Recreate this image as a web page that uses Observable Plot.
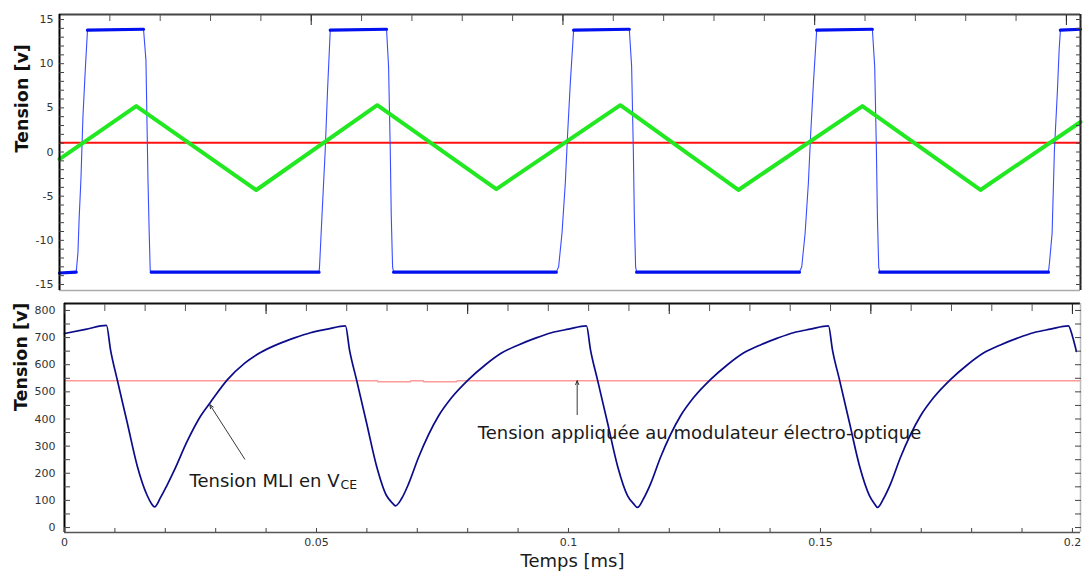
<!DOCTYPE html>
<html><head><meta charset="utf-8">
<script src="https://cdn.jsdelivr.net/npm/d3@7"></script>
<script src="https://cdn.jsdelivr.net/npm/@observablehq/plot@0.6"></script>
<style>
body{margin:0;background:#fff;}
#chart{position:relative;width:1086px;height:581px;overflow:hidden;background:#fff;}
#chart svg{position:absolute;left:0;}
</style></head><body><div id="chart"></div>
<script>
// ---------- TOP PANEL DATA (time in ms, tension in V) ----------
const blueTime = [0, 0.00332, 0.00366, 0.00391, 0.00425, 0.00465, 0.00511, 0.00556, 0.01669, 0.01717, 0.01736, 0.01756, 0.01782, 0.01802, 0.01822,
  0.05155, 0.05165, 0.05213, 0.05278, 0.05324, 0.05378,
  0.06496, 0.06536, 0.06570, 0.06590, 0.06616, 0.06636,
  0.09868, 0.09914, 0.09981, 0.10047, 0.10093, 0.10146, 0.10212,
  0.11318, 0.11364, 0.11398, 0.11418, 0.11443, 0.11463,
  0.14697, 0.14743, 0.14810, 0.14875, 0.14921, 0.14975, 0.15040,
  0.16146, 0.16192, 0.16226, 0.16246, 0.16272, 0.16292,
  0.19643, 0.19663, 0.19716, 0.19736, 0.19762, 0.19822, 0.19855, 0.19881,
  0.2028];
const blueVolt = [-13.7, -13.6, -11.4, -7.4, -3.2, 3.9, 9.2, 13.8, 13.9, 10.4, 4.0, -2.8, -9.2, -13.4, -13.6,
  -13.6, -13.0, -7.3, 0.2, 7.0, 13.8,
  13.9, 9.7, 0.2, -7.3, -13.0, -13.6,
  -13.6, -13.0, -9.2, -3.5, 2.1, 7.8, 13.8,
  13.9, 9.7, 0.2, -7.3, -13.0, -13.6,
  -13.6, -13.0, -9.2, -3.5, 2.1, 7.8, 13.8,
  13.9, 9.7, 0.2, -7.3, -13.0, -13.6,
  -13.6, -12.6, -9.2, -5.1, 0.2, 7.0, 11.5, 13.8,
  13.9];
const greenTime = [0, 0.01524, 0.03908, 0.06312, 0.08676, 0.11140, 0.13484, 0.15948, 0.18292, 0.2028];
const greenVolt = [-0.8, 5.2, -4.3, 5.3, -4.2, 5.3, -4.3, 5.2, -4.3, 3.4];
const redLevel = [1.05];
const topYTickLabels = [-15, -10, -5, 0, 5, 10, 15];
const topYMinorTicks = d3.range(-15, 16, 1);
const topXMajorTicks = [0.05, 0.1, 0.15, 0.2];
const topXMinorTicks = d3.range(0.01, 0.201, 0.01);
const topXDomain = [0, 0.2028];
const topYDomain = [-15.68, 15.57];

// ---------- BOTTOM PANEL DATA ----------
const vceTime = [0, 0.00417, 0.00833, 0.00913, 0.01046, 0.01244, 0.01442, 0.01641, 0.01726, 0.01786, 0.01905, 0.02024, 0.02163, 0.02440, 0.02698, 0.02897, 0.03234, 0.03571, 0.03889, 0.04226, 0.04563, 0.04881, 0.05218, 0.05575,
  0.05655, 0.05794, 0.05992, 0.06190, 0.06389, 0.06508, 0.06567, 0.06687, 0.06825, 0.07024, 0.07421, 0.07679, 0.08016, 0.08353, 0.08671, 0.09008, 0.09345, 0.09663, 0.10000, 0.10357,
  0.10437, 0.10575, 0.10774, 0.10972, 0.11171, 0.11290, 0.11369, 0.11488, 0.11627, 0.11825, 0.12222, 0.12480, 0.12817, 0.13155, 0.13472, 0.13810, 0.14147, 0.14464, 0.14802, 0.15159,
  0.15238, 0.15377, 0.15575, 0.15774, 0.15972, 0.16071, 0.16131, 0.16250, 0.16389, 0.16587, 0.16984, 0.17242, 0.17579, 0.17917, 0.18234, 0.18571, 0.18909, 0.19226, 0.19563, 0.19921, 0.20000, 0.20079];
const vceVolt = [715, 730, 745, 655, 545, 387, 228, 118, 88, 76, 110, 152, 205, 320, 410, 462, 545, 605, 645, 675, 699, 718, 731, 743,
  655, 545, 387, 228, 118, 90, 80, 106, 160, 258, 411, 478, 545, 600, 643, 673, 698, 718, 731, 743,
  655, 545, 387, 228, 118, 88, 74, 106, 160, 258, 411, 478, 545, 600, 643, 673, 698, 718, 731, 743,
  655, 545, 387, 228, 118, 88, 74, 106, 160, 258, 411, 478, 545, 600, 643, 673, 698, 718, 731, 743, 705, 649];
const eoTime = [0, 0.0621, 0.0622, 0.0686, 0.0687, 0.0712, 0.0713, 0.0778, 0.0779, 0.2016];
const eoVolt = [541, 541, 537, 537, 541, 541, 537, 537, 541, 541];
const bottomYTickLabels = [0, 100, 200, 300, 400, 500, 600, 700, 800];
const bottomYMinorTicks = d3.range(0, 801, 50);
const bottomXTickLabels = [0, 0.05, 0.1, 0.15, 0.2];
const bottomXMinorTicks = d3.range(0, 0.2001, 0.01);
const bottomTopMajor = [0, 0.04, 0.08, 0.12, 0.16, 0.2];
const bottomTopMinor = d3.range(0, 0.2001, 0.008);
const bottomXDomain = [0, 0.2016];
const bottomYDomain = [-18.3, 825.6];

// annotations
const annotText = ["Tension MLI en V", "Tension appliquée au modulateur électro-optique"];
const annotSub = ["CE"];
const annotTime = [0.0248, 0.0820];
const annotVolt = [150, 325];
const arrowFromTime = [0.03577, 0.10173];
const arrowFromVolt = [252, 416];
const arrowToTime = [0.02883, 0.10173];
const arrowToVolt = [453, 541];

const yLabel = "Tension [v]";
const xLabel = "Temps [ms]";

// ---------- BUILD ----------
const FONT = "DejaVu Sans";
const blue = blueTime.map((t, i) => ({t, v: blueVolt[i]}));
const green = greenTime.map((t, i) => ({t, v: greenVolt[i]}));
const vce = vceTime.map((t, i) => ({t, v: vceVolt[i]}));
const eo = eoTime.map((t, i) => ({t, v: eoVolt[i]}));
const annots = annotText.map((s, i) => ({s, t: annotTime[i], v: annotVolt[i]}));
const arrows = arrowFromTime.map((t, i) => ({t1: t, v1: arrowFromVolt[i], t2: arrowToTime[i], v2: arrowToVolt[i]}));

const blank = () => "";
const chart = document.getElementById("chart");

const topPlot = Plot.plot({
  width: 1086, height: 298,
  marginLeft: 59, marginRight: 6, marginTop: 14, marginBottom: 8,
  style: {fontFamily: FONT, fontSize: "11px", color: "#333", background: "transparent", overflow: "visible"},
  x: {domain: topXDomain, axis: null, label: null},
  y: {domain: topYDomain, axis: null, label: null},
  marks: [
    Plot.ruleY(redLevel, {stroke: "#ff1010", strokeWidth: 2}),
    Plot.line(blue, {x: "t", y: "v", stroke: "#3a4cff", strokeWidth: 1.1}),
    Plot.line(blue, {x: "t", y: d => Math.abs(d.v) >= 13.5 ? d.v : NaN, stroke: "#0010ee", strokeWidth: 3.2}),
    Plot.line(green, {x: "t", y: "v", stroke: "#22e822", strokeWidth: 4}),
    Plot.ruleY([topYDomain[0]], {stroke: "#aaa", strokeWidth: 1.5}),
    Plot.ruleY([topYDomain[1]], {stroke: "#444", strokeWidth: 1.8}),
    Plot.ruleX([topXDomain[1]], {stroke: "#222", strokeWidth: 2}),
    Plot.ruleX([topXDomain[0]], {stroke: "#000", strokeWidth: 2}),
    Plot.axisY(topYMinorTicks, {anchor: "left", tickSize: 5, dx: 5, tickFormat: blank, label: null, stroke: "#444"}),
    Plot.axisY(topYMinorTicks, {anchor: "right", tickSize: 5, dx: -5, tickFormat: blank, label: null, stroke: "#444"}),
    Plot.axisX(topXMinorTicks, {anchor: "top", tickSize: 6, dy: 6, tickFormat: blank, label: null, stroke: "#555"}),
    Plot.axisX(topXMajorTicks, {anchor: "top", tickSize: 10, dy: 10, tickFormat: blank, label: null, stroke: "#222"}),
    Plot.axisY(topYTickLabels, {anchor: "left", tickSize: 0, tickPadding: 6, tickFormat: d => String(d), label: null, fill: "#333", fontSize: 11}),
    Plot.text([yLabel], {frameAnchor: "left", dx: -37, rotate: -90, fontWeight: "bold", fontSize: 17.5, fill: "#111"})
  ]
});
topPlot.style.top = "0px";
chart.appendChild(topPlot);

const ctx = document.createElement("canvas").getContext("2d");
ctx.font = `18px '${FONT}'`;
const mainW = ctx.measureText(annotText[0]).width;

const bottomPlot = Plot.plot({
  width: 1086, height: 283,
  marginLeft: 64, marginRight: 6, marginTop: 5, marginBottom: 49,
  style: {fontFamily: FONT, fontSize: "11px", color: "#333", background: "transparent", overflow: "visible"},
  x: {domain: bottomXDomain, axis: null, label: null},
  y: {domain: bottomYDomain, axis: null, label: null},
  marks: [
    Plot.line(eo, {x: "t", y: "v", stroke: "#ff9a9a", strokeWidth: 1.6}),
    Plot.line(vce, {x: "t", y: "v", stroke: "#0c0c8a", strokeWidth: 1.7, strokeLinejoin: "round", curve: "monotone-x"}),
    Plot.arrow(arrows, {x1: "t1", y1: "v1", x2: "t2", y2: "v2", stroke: "#222", strokeWidth: 0.9, headLength: 7, headAngle: 45}),
    Plot.text(annots, {x: "t", y: "v", text: "s", textAnchor: "start", lineAnchor: "bottom", fontSize: 18, fill: "#1a1a1a"}),
    Plot.text(annotSub, {x: annotTime[0], y: annotVolt[0], textAnchor: "start", lineAnchor: "bottom", dx: mainW + 1, dy: 2, fontSize: 12.5, fill: "#1a1a1a"}),
    Plot.ruleY([bottomYDomain[0]], {stroke: "#555", strokeWidth: 1.6}),
    Plot.ruleY([bottomYDomain[1]], {stroke: "#111", strokeWidth: 2}),
    Plot.ruleX([bottomXDomain[1]], {stroke: "#bbb", strokeWidth: 1.5}),
    Plot.ruleX([bottomXDomain[0]], {stroke: "#000", strokeWidth: 2}),
    Plot.axisY(bottomYMinorTicks, {anchor: "left", tickSize: 6, dx: 6, tickFormat: blank, label: null, stroke: "#444"}),
    Plot.axisY(bottomYMinorTicks, {anchor: "right", tickSize: 6, dx: -6, tickFormat: blank, label: null, stroke: "#444"}),
    Plot.axisX(bottomTopMinor, {anchor: "top", tickSize: 7, dy: 7, tickFormat: blank, label: null, stroke: "#555"}),
    Plot.axisX(bottomTopMajor, {anchor: "top", tickSize: 10, dy: 10, tickFormat: blank, label: null, stroke: "#222"}),
    Plot.axisX(bottomXMinorTicks, {anchor: "bottom", tickSize: 4, dy: -4, tickFormat: blank, label: null, stroke: "#444"}),
    Plot.axisY(bottomYTickLabels, {anchor: "left", tickSize: 0, tickPadding: 9, tickFormat: d => String(d), label: null, fill: "#333", fontSize: 11}),
    Plot.axisX(bottomXTickLabels, {anchor: "bottom", tickSize: 0, tickPadding: 6, tickFormat: d => String(d), label: null, fill: "#333", fontSize: 11}),
    Plot.text([yLabel], {frameAnchor: "left", dx: -43, dy: -7, rotate: -90, fontWeight: "bold", fontSize: 17.5, fill: "#111"}),
    Plot.text([xLabel], {frameAnchor: "bottom", dy: 34, fontSize: 18, fill: "#1a1a1a"})
  ]
});
bottomPlot.style.top = "298px";
chart.appendChild(bottomPlot);
</script></body></html>
